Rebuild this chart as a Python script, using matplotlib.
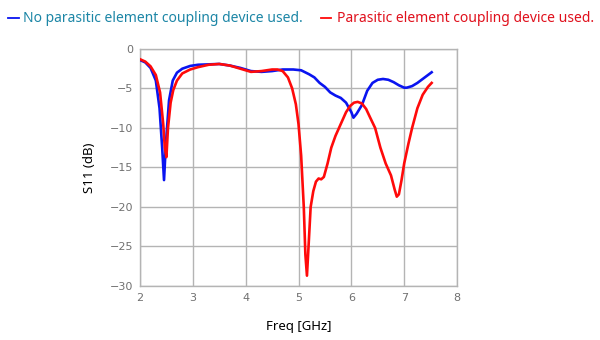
import matplotlib
matplotlib.use('Agg')
import matplotlib.pyplot as plt
from matplotlib.lines import Line2D

# 无寄生元件耦合器 (blue)
freq_blue = [2.0, 2.1, 2.2, 2.3, 2.37, 2.42, 2.455, 2.49, 2.55, 2.62, 2.7, 2.8, 2.95, 3.1,
             3.3, 3.5, 3.7, 3.9, 4.1, 4.3, 4.5, 4.7, 4.9, 5.05, 5.2, 5.3, 5.4, 5.5, 5.6,
             5.7, 5.8, 5.9, 6.0, 6.04, 6.1, 6.2, 6.3, 6.4, 6.5, 6.6, 6.7, 6.8, 6.9, 7.0,
             7.05, 7.15, 7.25, 7.35, 7.45, 7.52]
s11_blue = [-1.4, -1.7, -2.4, -4.0, -7.5, -12.5, -16.6, -12.0, -6.5, -4.0, -3.0, -2.5, -2.15,
            -2.0, -1.95, -1.9, -2.1, -2.4, -2.8, -2.9, -2.8, -2.6, -2.6, -2.7, -3.2, -3.6,
            -4.3, -4.8, -5.5, -5.9, -6.2, -6.8, -8.0, -8.7, -8.2, -7.1, -5.3, -4.3, -3.9,
            -3.8, -3.9, -4.2, -4.6, -4.9, -4.9, -4.7, -4.3, -3.8, -3.3, -2.95]

# 使用寄生元件耦合器 (red)
freq_red = [2.0, 2.1, 2.2, 2.3, 2.38, 2.44, 2.47, 2.5, 2.53, 2.58, 2.63, 2.7, 2.8, 2.95, 3.1,
            3.3, 3.5, 3.7, 3.9, 4.1, 4.3, 4.5, 4.6, 4.7, 4.8, 4.88, 4.95, 5.0, 5.05, 5.1,
            5.13, 5.16, 5.19, 5.23, 5.28, 5.33, 5.38, 5.43, 5.48, 5.55, 5.62, 5.7, 5.8,
            5.9, 5.98, 6.05, 6.12, 6.2, 6.28, 6.35, 6.45, 6.55, 6.65, 6.75, 6.82, 6.86,
            6.9, 6.95, 7.0, 7.08, 7.15, 7.25, 7.35, 7.45, 7.52]
s11_red = [-1.3, -1.6, -2.2, -3.3, -5.5, -9.5, -12.5, -13.7, -10.0, -6.8, -5.2, -4.0, -3.1,
           -2.6, -2.3, -2.0, -1.9, -2.1, -2.5, -2.9, -2.8, -2.6, -2.6, -2.8, -3.6, -5.0,
           -7.0, -9.5, -13.5, -20.0, -26.0, -28.7, -25.0, -20.0, -18.0, -16.8, -16.4,
           -16.5, -16.2, -14.5, -12.5, -11.0, -9.5, -8.0, -7.2, -6.8, -6.7, -6.9, -7.6,
           -8.6, -10.0, -12.5, -14.5, -16.0, -17.8, -18.7, -18.4, -16.6, -14.5, -12.0,
           -10.0, -7.5, -5.8, -4.8, -4.3]

x_ticks = [2, 3, 4, 5, 6, 7, 8]
y_ticks = [0, -5, -10, -15, -20, -25, -30]
label_blue = 'No parasitic element coupling device used.'
label_red = 'Parasitic element coupling device used.'

fig = plt.figure(figsize=(6, 3.4), dpi=100)
ax = fig.add_axes([0.2333, 0.159, 0.5284, 0.697])

ax.plot(freq_blue, s11_blue, color='#0a14f0', lw=1.9, zorder=3)
ax.plot(freq_red, s11_red, color='#ff0a0a', lw=1.9, zorder=4)

ax.set_xlim(2, 8)
ax.set_ylim(-30, 0)
ax.set_xticks(x_ticks)
ax.set_yticks(y_ticks)
ax.set_yticklabels(['0'] + ['\u2212%d' % abs(v) for v in y_ticks[1:]])
ax.grid(True, color='#b4b4b4', lw=1.0)
ax.set_axisbelow(True)
for s in ax.spines.values():
    s.set_color('#b4b4b4')
    s.set_linewidth(1.0)
ax.tick_params(length=0, labelsize=8, colors='#707070', pad=5)

ax.set_xlabel('Freq [GHz]', fontsize=9.5, family='Noto Sans', labelpad=12)
ax.set_ylabel('S11 (dB)', fontsize=9.5, family='Noto Sans', labelpad=10)

# 图例
ly = 0.947
fig.add_artist(Line2D([0.014, 0.031], [ly, ly], color='#0a14f0', lw=1.3))
fig.text(0.039, ly, label_blue, color='#1c86a6', fontsize=10, family='Noto Sans', va='center')
fig.add_artist(Line2D([0.535, 0.552], [ly, ly], color='#ff0a0a', lw=1.3))
fig.text(0.562, ly, label_red, color='#e0101c', fontsize=10, family='Noto Sans', va='center')

fig.savefig('out.png', dpi=100)
